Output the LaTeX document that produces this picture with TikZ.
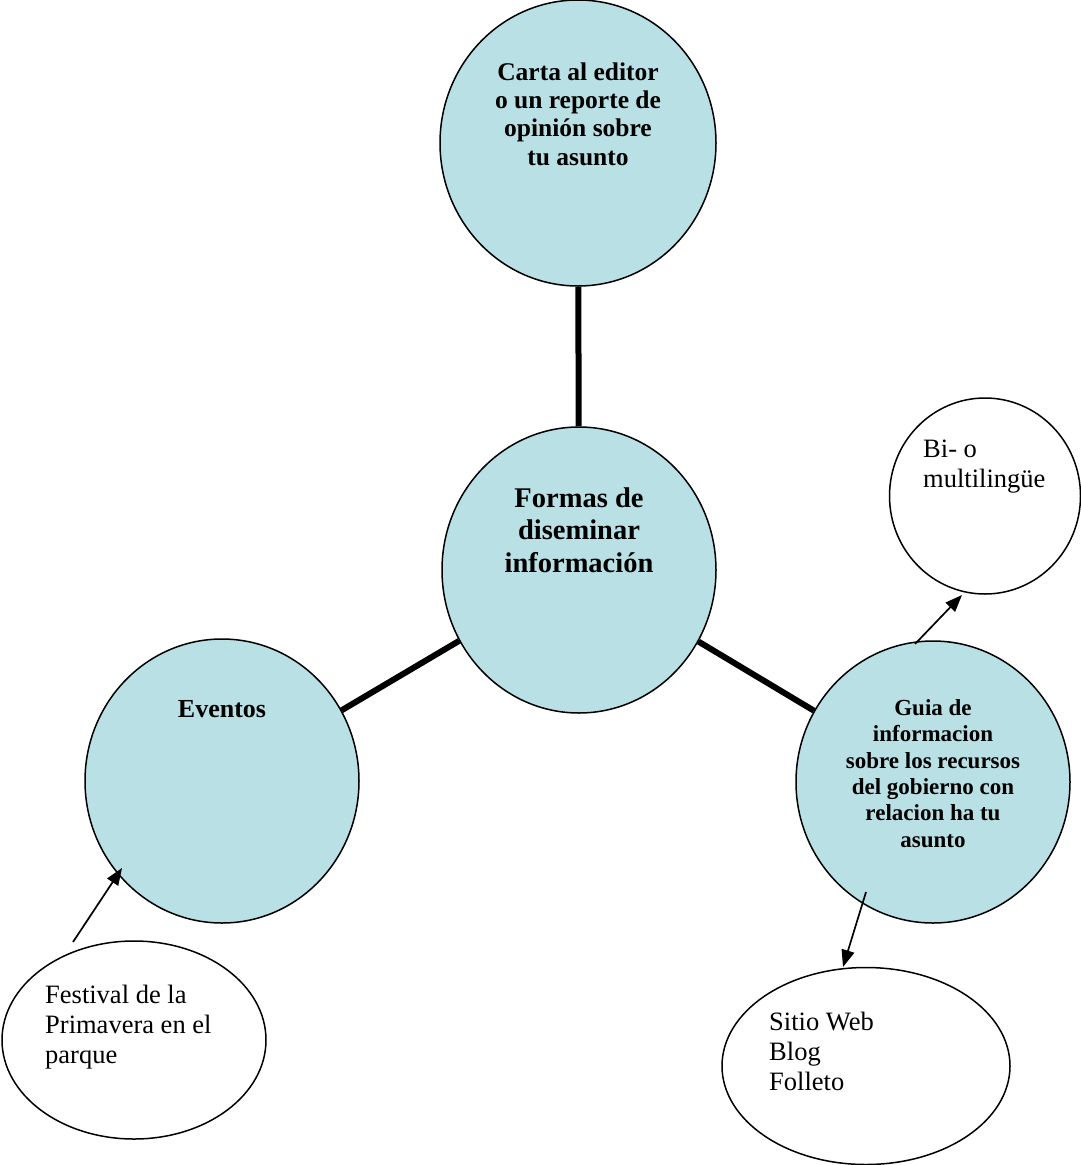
\documentclass[tikz,border=0pt]{standalone}
\usepackage{fontspec}
\setmainfont{Liberation Serif}
\usetikzlibrary{shapes.geometric,arrows.meta}
\definecolor{bubble}{RGB}{185,224,228}
\begin{document}
\begin{tikzpicture}[x=1pt,y=-1pt,
  hub/.style={ellipse,draw=black,line width=1.5pt,fill=bubble,inner sep=0pt},
  leaf/.style={ellipse,draw=black,line width=1.5pt,fill=white,inner sep=0pt},
  link/.style={line width=6pt},
  ptr/.style={line width=1.7pt,-{Triangle[length=17pt,width=13pt]}},
  btext/.style={inner sep=0pt,align=center,anchor=north},
  rtext/.style={inner sep=0pt,align=left,anchor=north west,font=\fontsize{26.5}{30}\selectfont}]
\useasboundingbox (0,0) rectangle (1081,1165);
% bubbles
\node[hub,minimum width=276pt,minimum height=286pt] (carta) at (578,143) {};
\node[hub,minimum width=274pt,minimum height=286pt] (formas) at (579,570) {};
\node[hub,minimum width=274pt,minimum height=284pt] (eventos) at (222,781) {};
\node[hub,minimum width=274pt,minimum height=282pt] (guia) at (933,782) {};
\node[leaf,minimum width=191pt,minimum height=196pt] (bi) at (985,496) {};
\node[leaf,minimum width=264pt,minimum height=198pt] (fest) at (134,1040) {};
\node[leaf,minimum width=288pt,minimum height=197pt] (sitio) at (866,1066) {};
% thick links
\draw[link] (carta) -- (formas);
\draw[link] (formas) -- (eventos);
\draw[link] (formas) -- (guia);
% arrows
\coordinate (p1) at (73,942);  \coordinate (q1) at (122,868);
\coordinate (p2) at (915,644); \coordinate (q2) at (962,595);
\coordinate (p3) at (866,892); \coordinate (q3) at (843,967);
\draw[ptr] (p1) -- (q1);
\draw[ptr] (p2) -- (q2);
\draw[ptr] (p3) -- (q3);
% texts
\node[btext,font=\bfseries\fontsize{25.5}{28.3}\selectfont] (tcarta) at (578,62.4)
  {Carta al editor\\o un reporte de\\opinión sobre\\tu asunto};
\node[btext,font=\bfseries\fontsize{28.5}{32.5}\selectfont] (tformas) at (579,487.3)
  {Formas de\\diseminar\\información};
\node[inner sep=0pt,anchor=base,font=\bfseries\fontsize{26}{30}\selectfont] (teventos) at (222,717) {Eventos};
\node[btext,font=\bfseries\fontsize{23}{26.4}\selectfont] (tguia) at (933,699.1)
  {Guia de\\informacion\\sobre los recursos\\del gobierno con\\relacion ha tu\\asunto};
\node[rtext] (tbi) at (923,439.7) {Bi- o\\multilingüe};
\node[rtext] (tfest) at (45,984.7) {Festival de la\\Primavera en el\\parque};
\node[rtext] (tsitio) at (769,1011.7) {Sitio Web\\Blog\\Folleto};
\end{tikzpicture}
\end{document}
